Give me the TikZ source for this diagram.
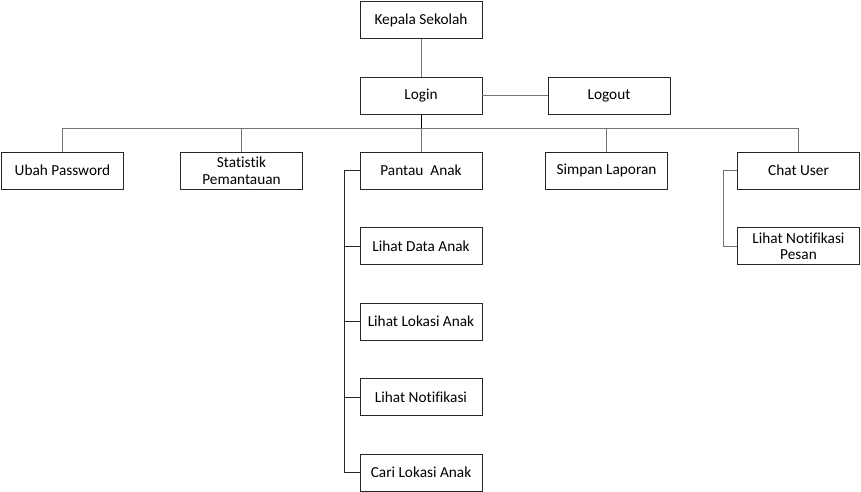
\documentclass[tikz,border=0pt]{standalone}
\usepackage{fontspec}
\setmainfont{Carlito}[Ligatures=NoCommon]
\usetikzlibrary{positioning}
\definecolor{linegray}{rgb}{0.45,0.45,0.45}
\tikzset{
    menu/.style={draw=black!85, line width=0.9pt, minimum width=122pt, minimum height=37pt,
        inner sep=1pt, align=center, font=\fontsize{15.3}{16.5}\selectfont}, % Boxes of the menu
    link/.style={draw=linegray, line width=1pt}, % Connecting lines
    node distance=37.6pt, % Distance between sub menus
}
\begin{document}
\begin{tikzpicture}[x=1pt, y=-1pt]
    \useasboundingbox (0,0) rectangle (861,492);

    \node[menu] (ks) at (421,20) {Kepala Sekolah};
    \node[menu] (login) at (421,95.5) {Login};
    \node[menu] (logout) at (609,95.5) {Logout};

    \node[menu] (ubah) at (62.5,170.5) {Ubah Password};
    \node[menu] (stat) at (241.5,170.5) {Statistik\\Pemantauan};
    \node[menu] (pantau) at (421,170.5) {Pantau\ \ Anak};
    \node[menu] (simpan) at (606.5,170.5) {Simpan Laporan};
    \node[menu] (chat) at (798.5,170.5) {Chat User};

    \node[menu] (data) [below=of pantau] {Lihat Data Anak};
    \node[menu] (lokasi) [below=of data] {Lihat Lokasi Anak};
    \node[menu] (notif) [below=of lokasi] {Lihat Notifikasi};
    \node[menu] (cari) [below=of notif] {Cari Lokasi Anak};
    \node[menu] (pesan) [below=of chat] {Lihat Notifikasi\\Pesan};

    \coordinate (bus) at (421,128);

    \draw[link] (ks) -- (login);
    \draw[link] (login) -- (logout);
    \draw[link, draw=black] (login) -- (bus);
    \foreach \c in {ubah, stat, pantau, simpan, chat}
        \draw[link] (bus) -| (\c.north);
    \foreach \c in {data, lokasi, notif, cari}
        \draw[link, draw=black!85] (pantau.west) -- ++(-15,0) |- (\c.west);
    \draw[link] (chat.west) -- ++(-14,0) |- (pesan.west);
\end{tikzpicture}
\end{document}
